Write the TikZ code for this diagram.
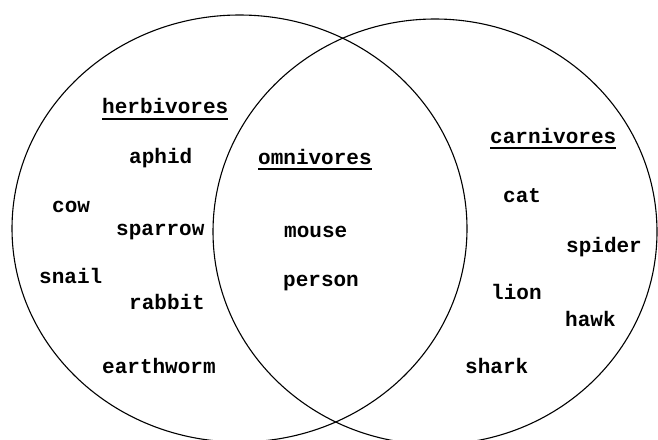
\documentclass[tikz,border=0pt]{standalone}
\usepackage{fontspec}
\newfontfamily\twfont{Liberation Mono}
\begin{document}
\begin{tikzpicture}[x=1pt,y=-1pt,
  ring/.style={line width=1.1pt, black},
  lbl/.style={inner sep=0pt, anchor=base west, font=\twfont\bfseries\fontsize{21}{24}\selectfont},
  ul/.style={line width=1.5pt, black}]
\useasboundingbox (0,0) rectangle (658,439);
% circles
\draw[ring] (239.5,228.5) ellipse [x radius=227.5pt, y radius=213.5pt];
\draw[ring] (435,231.7) ellipse [x radius=222pt, y radius=212.7pt];
% headings
\node[lbl] (herb) at (102,113) {herbivores};
\node[lbl] (omni) at (258,164) {omnivores};
\node[lbl] (carn) at (490,143) {carnivores};
\draw[ul] ([yshift=-6pt]herb.base west) -- ([yshift=-6pt]herb.base east);
\draw[ul] ([yshift=-5pt]omni.base west) -- ([yshift=-5pt]omni.base east);
\draw[ul] ([yshift=-5pt]carn.base west) -- ([yshift=-5pt]carn.base east);
% herbivores
\node[lbl] (aphid) at (129,163) {aphid};
\node[lbl] (cow) at (52,212) {cow};
\node[lbl] (sparrow) at (116,235) {sparrow};
\node[lbl] (snail) at (39,283) {snail};
\node[lbl] (rabbit) at (129,309) {rabbit};
\node[lbl] (earthworm) at (102,373) {earthworm};
% omnivores
\node[lbl] (mouse) at (284,237) {mouse};
\node[lbl] (person) at (283,286) {person};
% carnivores
\node[lbl] (cat) at (503,202) {cat};
\node[lbl] (spider) at (566,252) {spider};
\node[lbl] (lion) at (491,299) {lion};
\node[lbl] (hawk) at (565,326) {hawk};
\node[lbl] (shark) at (465,373) {shark};
\end{tikzpicture}
\end{document}
